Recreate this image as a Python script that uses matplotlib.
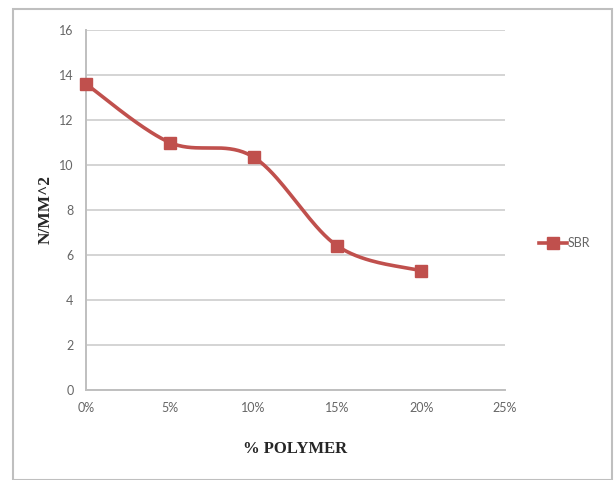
import numpy as np
import matplotlib
matplotlib.use("Agg")
import matplotlib.pyplot as plt
from matplotlib.patches import Rectangle
from matplotlib.lines import Line2D

polymer_pct = [0, 5, 10, 15, 20]
strength = [13.6, 11.0, 10.35, 6.4, 5.3]
x_ticks = [0, 5, 10, 15, 20, 25]
x_tick_labels = ["0%", "5%", "10%", "15%", "20%", "25%"]
y_ticks = [0, 2, 4, 6, 8, 10, 12, 14, 16]
series_name = "SBR"

RED = "#C0504D"
GRID = "#D4D4D4"
TICK = "#666666"
TICK_FONT = "Lato"


def smooth_path(xs, ys, steps=40):
    """Cubic Bezier smoothing through each point (spreadsheet-style)."""
    xs = np.asarray(xs, float)
    ys = np.asarray(ys, float)
    n = len(xs)
    px, py = [], []
    for i in range(n - 1):
        x0, y0 = xs[max(i - 1, 0)], ys[max(i - 1, 0)]
        x1, y1 = xs[i], ys[i]
        x2, y2 = xs[i + 1], ys[i + 1]
        x3, y3 = xs[min(i + 2, n - 1)], ys[min(i + 2, n - 1)]
        c1x, c1y = x1 + (x2 - x0) / 6, y1 + (y2 - y0) / 6
        c2x, c2y = x2 - (x3 - x1) / 6, y2 - (y3 - y1) / 6
        t = np.linspace(0, 1, steps)
        a, b, c, d = (1 - t) ** 3, 3 * (1 - t) ** 2 * t, 3 * (1 - t) * t ** 2, t ** 3
        px.extend(a * x1 + b * c1x + c * c2x + d * x2)
        py.extend(a * y1 + b * c1y + c * c2y + d * y2)
    return np.array(px), np.array(py)


fig = plt.figure(figsize=(6.16, 4.8), dpi=100)
fig.patch.set_facecolor("white")
fig.patches.append(Rectangle((13 / 616, 0.0), 599 / 616, 1 - 9 / 480,
                             transform=fig.transFigure, fill=False,
                             edgecolor="#BFBFBF", linewidth=1.5))

ax = fig.add_axes([86 / 616, 1 - 390 / 480, (505 - 86) / 616, (390 - 30) / 480])
ax.set_xlim(0, 25)
ax.set_ylim(0, 16)
ax.set_xticks(x_ticks)
ax.set_xticklabels(x_tick_labels)
ax.set_yticks(y_ticks)
ax.grid(axis="y", color=GRID, linewidth=1.4)
ax.set_axisbelow(True)
for side in ("top", "right"):
    ax.spines[side].set_visible(False)
for side in ("left", "bottom"):
    ax.spines[side].set_color("#BFBFBF")
    ax.spines[side].set_linewidth(1.4)
ax.tick_params(length=0, pad=9, labelsize=9, labelcolor=TICK)
for lab in ax.get_xticklabels() + ax.get_yticklabels():
    lab.set_family(TICK_FONT)

sx, sy = smooth_path(polymer_pct, strength)
ax.plot(sx, sy, color=RED, linewidth=2.6, clip_on=False, zorder=3)
ax.plot(polymer_pct, strength, linestyle="none", marker="s", markersize=9,
        color=RED, markeredgecolor=RED, clip_on=False, zorder=4)

ax.set_xlabel("% POLYMER", family="Liberation Serif", fontweight="bold",
              fontsize=12, color="#262626", labelpad=19)
ax.set_ylabel("N/MM^2", family="Liberation Serif", fontweight="bold",
              fontsize=12.5, color="#262626", labelpad=4)

handle = Line2D([], [], color=RED, linewidth=2.6, marker="s", markersize=8)
fig.legend([handle], [series_name], loc="center left",
           bbox_to_anchor=(528 / 616, 1 - 243 / 480), frameon=False,
           handlelength=2.2, handletextpad=0.1,
           prop={"family": TICK_FONT, "size": 9})
for t in fig.legends[0].get_texts():
    t.set_color(TICK)

fig.savefig("out.png", dpi=100, facecolor="white")
